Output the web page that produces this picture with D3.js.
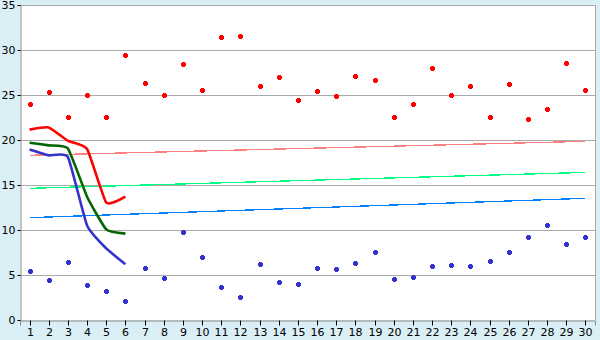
<!DOCTYPE html>
<html><head><meta charset="utf-8">
<script src="https://cdn.jsdelivr.net/npm/d3@7"></script>
<style>
html,body{margin:0;padding:0;background:#D9EFF5;}
svg{display:block;}
</style></head>
<body><svg id="c" width="600" height="340"></svg>
<script>
const categories = d3.range(1, 31);
const yTicks = [0, 5, 10, 15, 20, 25, 30, 35];
const redPoints = [24.0, 25.3, 22.5, 25.0, 22.6, 29.4, 26.3, 25.0, 28.5, 25.6,
  31.4, 31.6, 26.0, 27.0, 24.5, 25.4, 24.85, 27.1, 26.7, 22.6,
  24.0, 28.0, 25.0, 26.0, 22.5, 26.2, 22.3, 23.4, 28.6, 25.6];
const bluePoints = [5.5, 4.5, 6.5, 3.85, 3.2, 2.07, 5.74, 4.63, 9.74, 6.96,
  3.63, 2.52, 6.19, 4.19, 3.96, 5.74, 5.63, 6.3, 7.52, 4.52,
  4.74, 5.96, 6.07, 5.96, 6.52, 7.52, 9.19, 10.52, 8.41, 9.19];
const lineCats = [1, 2, 3, 4, 5, 6];
const redLine = [21.15, 21.4, 19.9, 19.0, 13.05, 13.7];
const greenLine = [19.7, 19.4, 19.05, 13.7, 10.07, 9.6];
const blueLine = [18.95, 18.3, 18.1, 10.5, 7.95, 6.2];
const trendCats = [1, 30];
const pinkTrend = [18.3, 19.85];
const greenTrend = [14.63, 16.4];
const blueTrend = [11.37, 13.52];

const svg = d3.select("#c");
const L = 20, R = 595, T = 5, B = 320;
const x = d3.scalePoint().domain(categories).range([L, R]).padding(0.5);
const y = d3.scaleLinear().domain([0, 35]).range([B, T]);

svg.append("rect").attr("x", L).attr("y", T).attr("width", R - L).attr("height", B - T).attr("fill", "#fff");

// gridlines
svg.append("g").selectAll("line").data(yTicks.filter(d => d > 0)).join("line")
  .attr("x1", L).attr("x2", R).attr("y1", d => Math.round(y(d)) + 0.5).attr("y2", d => Math.round(y(d)) + 0.5)
  .attr("stroke", "#aaa").attr("stroke-width", 1);
// right border
svg.append("line").attr("x1", R + 0.5).attr("x2", R + 0.5).attr("y1", T).attr("y2", B)
  .attr("stroke", "#aaa");

// axes
const yAxis = svg.append("g").attr("transform", `translate(${L + 0.5},0)`)
  .call(d3.axisLeft(y).tickValues(yTicks).tickSize(3).tickPadding(2).tickFormat(d3.format("d")));
const xAxis = svg.append("g").attr("transform", `translate(0,${B + 0.5})`)
  .call(d3.axisBottom(x).tickSize(5).tickPadding(3));
[yAxis, xAxis].forEach(g => {
  g.select(".domain").attr("stroke", "#888");
  g.selectAll(".tick line").attr("stroke", "#000");
  g.selectAll("text").attr("font-family", "DejaVu Sans, Verdana, sans-serif").attr("font-size", 11).attr("fill", "#000");
});
xAxis.selectAll(".tick").attr("transform", d => `translate(${Math.round(x(d)) + 0.5},0)`);

// trend lines
const straight = d3.line().x((d, i) => x(trendCats[i])).y(d => y(d));
[[pinkTrend, "#FF8080"], [greenTrend, "#00FF80"], [blueTrend, "#0080FF"]].forEach(([data, col]) => {
  svg.append("path").attr("d", straight(data)).attr("fill", "none").attr("stroke", col)
    .attr("stroke-width", 1.3).attr("shape-rendering", "crispEdges");
});

// smooth lines
const smooth = d3.line().x((d, i) => x(lineCats[i])).y(d => y(d)).curve(d3.curveCardinal.tension(0.55));
[[redLine, "#FF0000"], [greenLine, "#006600"], [blueLine, "#3333CC"]].forEach(([data, col]) => {
  svg.append("path").attr("d", smooth(data)).attr("fill", "none").attr("stroke", col)
    .attr("stroke-width", 2.6).attr("stroke-linejoin", "round");
});

// markers
const marker = "M-2.5,-1.5H2.5V1.5H-2.5Z M-1.5,-2.5H1.5V2.5H-1.5Z";
[[redPoints, "#FF0000"], [bluePoints, "#3333CC"]].forEach(([data, col]) => {
  svg.append("g").selectAll("path").data(data).join("path")
    .attr("d", marker)
    .attr("transform", (d, i) => `translate(${Math.round(x(categories[i])) + 0.5},${Math.round(y(d)) + 0.5})`)
    .attr("fill", col).attr("fill-rule", "nonzero");
});
</script></body></html>
